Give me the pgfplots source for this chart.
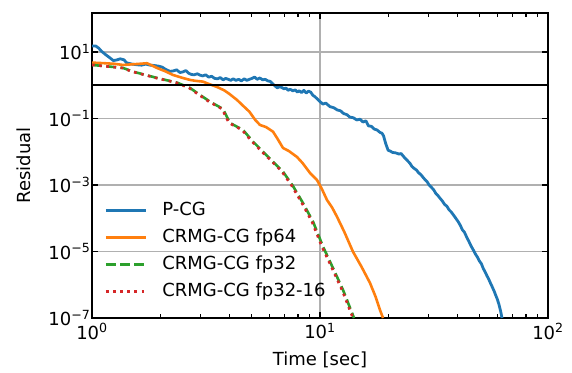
\documentclass[border=0pt]{standalone}
\usepackage{fontspec}
\setmainfont{DejaVu Sans}
\usepackage{pgfplots}
\pgfplotsset{compat=1.18}
\definecolor{tabblue}{HTML}{1F77B4}
\definecolor{taborange}{HTML}{FF7F0E}
\definecolor{tabgreen}{HTML}{2CA02C}
\definecolor{tabred}{HTML}{D62728}
\definecolor{gridgray}{HTML}{B0B0B0}
\begin{document}
\begin{tikzpicture}
\begin{axis}[
  name=ax,
  xmode=log, ymode=log,
  scale only axis, width=456pt, height=305pt,
  xmin=1, xmax=100, ymin=1e-7, ymax=148,
  xtick={1,10,100},
  xticklabels={10\textsuperscript{0},10\textsuperscript{1},10\textsuperscript{2}},
  minor xtick={2,3,4,5,6,7,8,9,20,30,40,50,60,70,80,90},
  ytick={1e-7,1e-5,1e-3,1e-1,10},
  yticklabels={10\textsuperscript{−7},10\textsuperscript{−5},10\textsuperscript{−3},10\textsuperscript{−1},10\textsuperscript{1}},
  minor ytick={},
  tick align=inside,
  major tick length=6.3pt, minor tick length=3.6pt,
  every tick/.style={black, line width=1.3pt},
  xmajorgrids, ymajorgrids,
  major grid style={gridgray, line width=1.4pt},
  axis line style={black, line width=1.4pt},
  tick label style={font=\fontsize{18}{21}\selectfont},
  yticklabel style={xshift=2pt},
  xticklabel style={yshift=-2pt},
  xlabel={Time [sec]},
  ylabel={Residual},
  every axis x label/.style={at={([yshift=-47pt]axis description cs:0.5,0)}, anchor=base, font=\fontsize{18}{21}\selectfont},
  every axis y label/.style={at={([xshift=-61pt]axis description cs:0,0.5)}, anchor=base, rotate=90, font=\fontsize{18}{21}\selectfont},
  legend style={draw=none, fill=none, inner sep=0pt, outer sep=0pt,
    at={(axis description cs:0,0)}, anchor=south west, xshift=12.5pt, yshift=18pt,
    font=\fontsize{18}{21}\selectfont, row sep=10pt,
    nodes={inner xsep=10pt, inner ysep=0pt, text height=13pt, text depth=4pt},
    /tikz/every odd column/.append style={column sep=5pt}},
  legend cell align=left,
  legend image code/.code={\draw[#1] (0pt,0pt) -- (40pt,0pt);},
]
\addplot[tabblue, line width=2.8pt, line join=round] coordinates {
(1.0,15.15) (1.04,15.0) (1.07,13) (1.1,10.5) (1.15,8.2) (1.2,6.6) (1.24,5.5) (1.28,5.7)
(1.33,6.2) (1.38,5.8) (1.42,4.7) (1.5,4.3) (1.58,4.1) (1.65,4.0) (1.72,4.3) (1.8,4.0)
(1.88,3.9) (1.95,3.75) (2.03,3.5) (2.1,3.0) (2.2,2.6) (2.28,2.7) (2.35,2.9) (2.43,2.4)
(2.5,2.5) (2.58,2.75) (2.65,2.3) (2.73,2.1) (2.8,2.05) (2.9,2.2) (2.98,2.0) (3.06,1.9)
(3.15,2.05) (3.25,1.75) (3.35,1.85) (3.45,1.6) (3.55,1.55) (3.65,1.7) (3.76,1.45) (3.86,1.6)
(3.96,1.5) (4.06,1.4) (4.16,1.55) (4.28,1.4) (4.4,1.5) (4.52,1.35) (4.65,1.55) (4.78,1.4)
(4.9,1.5) (5.03,1.6) (5.17,1.75) (5.3,1.5) (5.45,1.65) (5.6,1.45) (5.75,1.5) (5.9,1.35)
(6.05,1.3) (6.2,1.1) (6.35,0.95) (6.5,0.83) (6.65,0.9) (6.8,0.85) (6.95,0.78) (7.1,0.82)
(7.25,0.7) (7.4,0.75) (7.6,0.68) (7.8,0.72) (7.95,0.62) (8.1,0.68) (8.3,0.6) (8.5,0.7)
(8.7,0.58) (8.9,0.66) (9.1,0.62) (9.3,0.5) (9.5,0.45) (9.75,0.38) (10.0,0.32)
(10.3,0.27) (10.6,0.29) (11.06,0.226) (11.5,0.21) (11.9,0.18) (12.3,0.17) (12.7,0.14)
(13.13,0.13) (13.5,0.11) (14.0,0.105) (14.5,0.09) (15.0,0.095) (15.44,0.078) (15.9,0.085)
(16.3,0.06) (16.8,0.058) (17.3,0.048) (17.8,0.045) (18.33,0.038) (18.7,0.036) (19.0,0.030)
(19.4,0.018) (19.9,0.011) (20.3,0.0105) (20.8,0.0095) (21.5,0.0092) (22.2,0.0085) (22.7,0.0088)
(23.12,0.0075) (23.7,0.0062) (24.3,0.0052) (24.8,0.0045) (25.3,0.0036) (25.8,0.0032)
(26.5,0.0028) (27.1,0.0023) (27.6,0.0021) (28.3,0.0017) (29.0,0.0014) (29.5,0.00125)
(30.1,0.0010) (30.8,0.00085) (31.5,0.00072) (32.2,0.00056) (32.9,0.00048) (33.6,0.00040)
(34.4,0.00033) (35.2,0.00026) (36.0,0.00023) (36.8,0.00018) (37.6,0.000155) (38.5,0.000125)
(39.4,0.00010) (40.3,8e-5) (41.2,6.2e-5) (42.1,4.5e-5) (43.0,3.8e-5) (44.0,2.7e-5)
(45.0,2.0e-5) (46.0,1.45e-5) (46.9,1.15e-5) (48.0,8.5e-6) (49.0,6.8e-6) (50.0,5.2e-6)
(51.0,4.3e-6) (52.0,3.1e-6) (53.0,2.4e-6) (54.0,1.85e-6) (55.0,1.45e-6) (56.0,1.1e-6)
(57.0,8.5e-7) (58.0,6.5e-7) (59.0,4.8e-7) (60.0,3.6e-7) (61.0,2.5e-7) (62.0,1.6e-7) (62.84,1e-7)
};
\addlegendentry{P-CG}
\addplot[taborange, line width=2.6pt, line join=round] coordinates {
(1.000,4.77) (1.140,4.57) (1.25,4.4) (1.368,4.06) (1.55,4.3) (1.743,4.57) (1.85,3.8)
(1.928,3.30) (2.1,2.6) (2.266,2.03) (2.5,1.65) (2.691,1.44) (2.85,1.35) (3.068,1.28)
(3.3,1.05) (3.533,0.886) (3.8,0.7) (4.0,0.55) (4.325,0.360) (4.6,0.24) (4.9,0.16)
(5.2,0.09) (5.456,0.0637) (5.8,0.055) (6.221,0.0401) (6.5,0.025) (6.882,0.01297)
(7.3,0.0105) (7.927,0.00695) (8.4,0.0045) (9.04,0.002296) (9.70,0.001414) (10.2,7.5e-4)
(10.73,3.54e-4) (11.3,2.1e-4) (11.87,1.113e-4) (12.8,3.8e-5) (13.95,9.86e-6) (15.2,3.5e-6)
(16.57,1.13e-6) (17.5,4.5e-7) (18.33,1.74e-7) (18.90,1e-7)
};
\addlegendentry{CRMG-CG fp64}
\addplot[tabgreen, line width=2.6pt, dash pattern=on 10pt off 4.3pt] coordinates {
(1.000,4.06) (1.117,3.79) (1.368,3.30) (1.513,2.56) (1.928,1.65) (2.360,1.193) (2.691,0.827)
(2.977,0.509) (3.292,0.320) (3.755,0.193) (4.030,0.0732) (4.596,0.0451) (5.084,0.02006)
(5.623,0.01003) (6.221,0.00502) (6.882,0.00251) (7.61,9.33e-4) (8.42,2.87e-4) (9.32,7.87e-5)
(10.31,1.394e-5) (11.40,3.19e-6) (12.62,6.95e-7) (14.1,1e-7)
};
\addlegendentry{CRMG-CG fp32}
\addplot[tabred, line width=2.6pt, dash pattern=on 2.7pt off 4.45pt] coordinates {
(1.000,4.06) (1.110,3.79) (1.355,3.30) (1.500,2.56) (1.910,1.65) (2.340,1.193) (2.665,0.827)
(2.950,0.509) (3.260,0.320) (3.720,0.193) (3.990,0.0732) (4.550,0.0451) (5.035,0.02006)
(5.565,0.01003) (6.160,0.00502) (6.815,0.00251) (7.53,9.33e-4) (8.33,2.87e-4) (9.22,7.87e-5)
(10.20,1.394e-5) (11.28,3.19e-6) (12.49,6.95e-7) (13.95,1e-7)
};
\addlegendentry{CRMG-CG fp32-16}
\addplot[black, line width=2pt, forget plot] coordinates {(1,1) (100,1)};
\end{axis}
\pgfresetboundingbox
\path[use as bounding box] (ax.south west) ++(-92pt,-54pt) rectangle ++(572pt,372pt);
\end{tikzpicture}
\end{document}
